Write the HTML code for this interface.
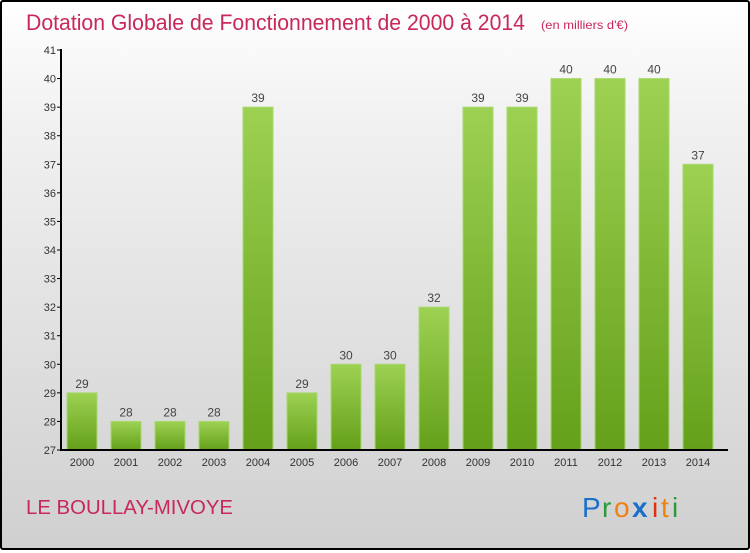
<!DOCTYPE html>
<html><head><meta charset="utf-8"><style>
body{margin:0;width:750px;height:550px;overflow:hidden}
#wrap{position:absolute;left:0;top:0;width:746px;height:546px;border:2px solid #000;border-radius:3px;background:linear-gradient(#ffffff,#f2f2f2 20%,#d8d8d8 80%,#d0d0d0);}
text{font-family:"Liberation Sans",sans-serif}
</style></head><body>
<div id="wrap">
<svg id="svg" width="746" height="546" viewBox="2 2 746 546">
<defs><linearGradient id="g" x1="0" y1="0" x2="0" y2="1"><stop offset="0" stop-color="#9dd152"/><stop offset="1" stop-color="#64a01a"/></linearGradient></defs>
<text x="26" y="30" font-size="22" fill="#c8285a" textLength="499" lengthAdjust="spacingAndGlyphs">Dotation Globale de Fonctionnement de 2000 à 2014</text>
<text x="541" y="29" font-size="12" fill="#c8285a" textLength="87" lengthAdjust="spacingAndGlyphs">(en milliers d'€)</text>
<text x="26" y="514" font-size="20" fill="#c8285a" textLength="207" lengthAdjust="spacingAndGlyphs">LE BOULLAY-MIVOYE</text>
<g id="logo" font-size="28">
<text x="582" y="517" fill="#1a6fc9">P</text><text x="602" y="517" fill="#2a9a3a">r</text><text x="614" y="517" fill="#f08010">o</text><text x="632" y="517" fill="#1a6fc9" font-weight="bold">x</text><text x="652" y="517" fill="#e03010">i</text><text x="661" y="517" fill="#f08010">t</text><text x="672" y="517" fill="#2a9a3a">i</text>
</g>
<g id="bars"></g><g id="axes"></g>
</svg></div>
<script>
const years=["2000","2001","2002","2003","2004","2005","2006","2007","2008","2009","2010","2011","2012","2013","2014"];
const values=[29,28,28,28,39,29,30,30,32,39,39,40,40,40,37];
const yTicks=[27,28,29,30,31,32,33,34,35,36,37,38,39,40,41];
const NS="http://www.w3.org/2000/svg";
const y=v=>450-(v-27)*400/14;
const x=i=>82+i*44;
function mk(t,a,p){const e=document.createElementNS(NS,t);for(const k in a)e.setAttribute(k,a[k]);p.appendChild(e);return e;}
const bars=document.getElementById('bars'),axes=document.getElementById('axes');
values.forEach((v,i)=>{
 const r=mk('rect',{x:x(i)-15,y:y(v),width:30,height:450-y(v),fill:'url(#g)',stroke:'#a8d870','stroke-width':1},bars);
 
 
 const t=mk('text',{x:x(i),y:y(v)-5,'text-anchor':'middle','font-size':12,fill:'#444'},bars);t.textContent=v;
 
 
 const xl=mk('text',{x:x(i),y:466,'text-anchor':'middle','font-size':11,fill:'#333'},axes);xl.textContent=years[i];
 
 
});
mk('line',{x1:61,y1:49,x2:61,y2:451,stroke:'#000','stroke-width':2},axes);
mk('line',{x1:60,y1:450,x2:728,y2:450,stroke:'#000','stroke-width':2},axes);
yTicks.forEach(v=>{
 mk('line',{x1:57,y1:y(v),x2:61,y2:y(v),stroke:'#000'},axes);
 const t=mk('text',{x:56,y:y(v)+4,'text-anchor':'end','font-size':11,fill:'#333'},axes);t.textContent=v;
 
 
});
</script>
</body></html>
